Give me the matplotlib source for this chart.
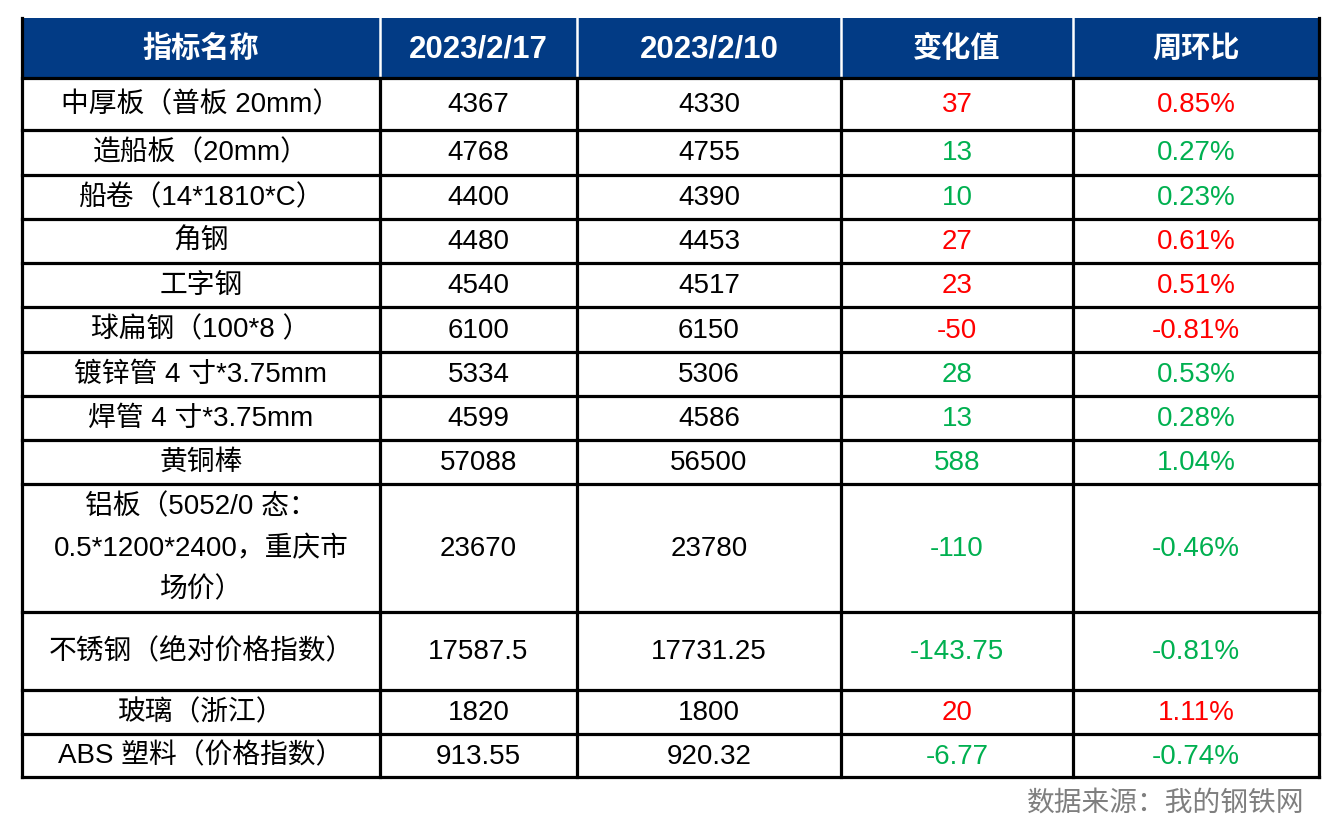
import matplotlib
matplotlib.use("Agg")
import matplotlib.pyplot as plt
from matplotlib.patches import Rectangle

plt.rcParams['font.family'] = ['Liberation Sans', 'Noto Sans CJK SC', 'DejaVu Sans']

headers = ["指标名称", "2023/2/17", "2023/2/10", "变化值", "周环比"]
names = ["中厚板（普板 20mm）", "造船板（20mm）", "船卷（14*1810*C）", "角钢", "工字钢",
         "球扁钢（100*8 ）", "镀锌管 4 寸*3.75mm", "焊管 4 寸*3.75mm", "黄铜棒",
         "铝板（5052/0 态：\n0.5*1200*2400，重庆市\n场价）",
         "不锈钢（绝对价格指数）", "玻璃（浙江）", "ABS 塑料（价格指数）"]
price_0217 = ["4367", "4768", "4400", "4480", "4540", "6100", "5334", "4599", "57088",
              "23670", "17587.5", "1820", "913.55"]
price_0210 = ["4330", "4755", "4390", "4453", "4517", "6150", "5306", "4586", "56500",
              "23780", "17731.25", "1800", "920.32"]
change = ["37", "13", "10", "27", "23", "-50", "28", "13", "588", "-110", "-143.75", "20", "-6.77"]
wow = ["0.85%", "0.27%", "0.23%", "0.61%", "0.51%", "-0.81%", "0.53%", "0.28%", "1.04%",
       "-0.46%", "-0.81%", "1.11%", "-0.74%"]
# colour flag per row as shown in the source (r = red, g = green)
color_flag = ["r", "g", "g", "r", "r", "r", "g", "g", "g", "g", "g", "r", "g"]
source = "数据来源：我的钢铁网"

RED = "#FF0000"
GREEN = "#00B050"
NAVY = "#023B85"

W, H = 1337, 832
fig = plt.figure(figsize=(W / 100, H / 100), dpi=100)
ax = fig.add_axes([0, 0, 1, 1])
ax.set_xlim(0, W)
ax.set_ylim(H, 0)
ax.axis("off")

col_x = [22, 380, 577, 841, 1073, 1319]
row_y = [18, 78, 130, 175, 219, 263, 307, 352, 396, 440, 484, 612, 690, 734, 777]

# header background
ax.add_patch(Rectangle((col_x[0], row_y[0]), col_x[-1] - col_x[0], row_y[1] - row_y[0],
                       facecolor=NAVY, edgecolor="none", zorder=1))
for j, h in enumerate(headers):
    cx = (col_x[j] + col_x[j + 1]) / 2
    cy = (row_y[0] + row_y[1]) / 2
    fs = 21 if j in (0, 3, 4) else 22.5
    ax.text(cx, cy + 1, h, color="white", fontsize=fs, fontweight="bold",
            ha="center", va="center", zorder=3)
for x in col_x[1:-1]:
    ax.plot([x, x], [row_y[0], row_y[1]], color="white", lw=1.8, zorder=2)

cols = [names, price_0217, price_0210, change, wow]
for i in range(len(names)):
    cy = (row_y[i + 1] + row_y[i + 2]) / 2
    for j, col in enumerate(cols):
        cx = (col_x[j] + col_x[j + 1]) / 2
        txt = col[i]
        c = "black"
        if j >= 3:
            c = RED if color_flag[i] == "r" else GREEN
        ax.text(cx, cy + 1, txt, color=c, fontsize=20, ha="center", va="center",
                linespacing=1.75, zorder=3)

# grid lines
lw = 2.3
for y in row_y[1:]:
    ax.plot([col_x[0], col_x[-1]], [y, y], color="black", lw=lw, zorder=4,
            solid_capstyle="projecting")
for x in col_x:
    y0 = row_y[0] if x in (col_x[0], col_x[-1]) else row_y[1]
    ax.plot([x, x], [y0, row_y[-1]], color="black", lw=lw, zorder=4,
            solid_capstyle="projecting")

ax.text(1304, 804, source, color="#7F7F7F", fontsize=20, ha="right", va="center")

fig.savefig("out.png", dpi=100)
